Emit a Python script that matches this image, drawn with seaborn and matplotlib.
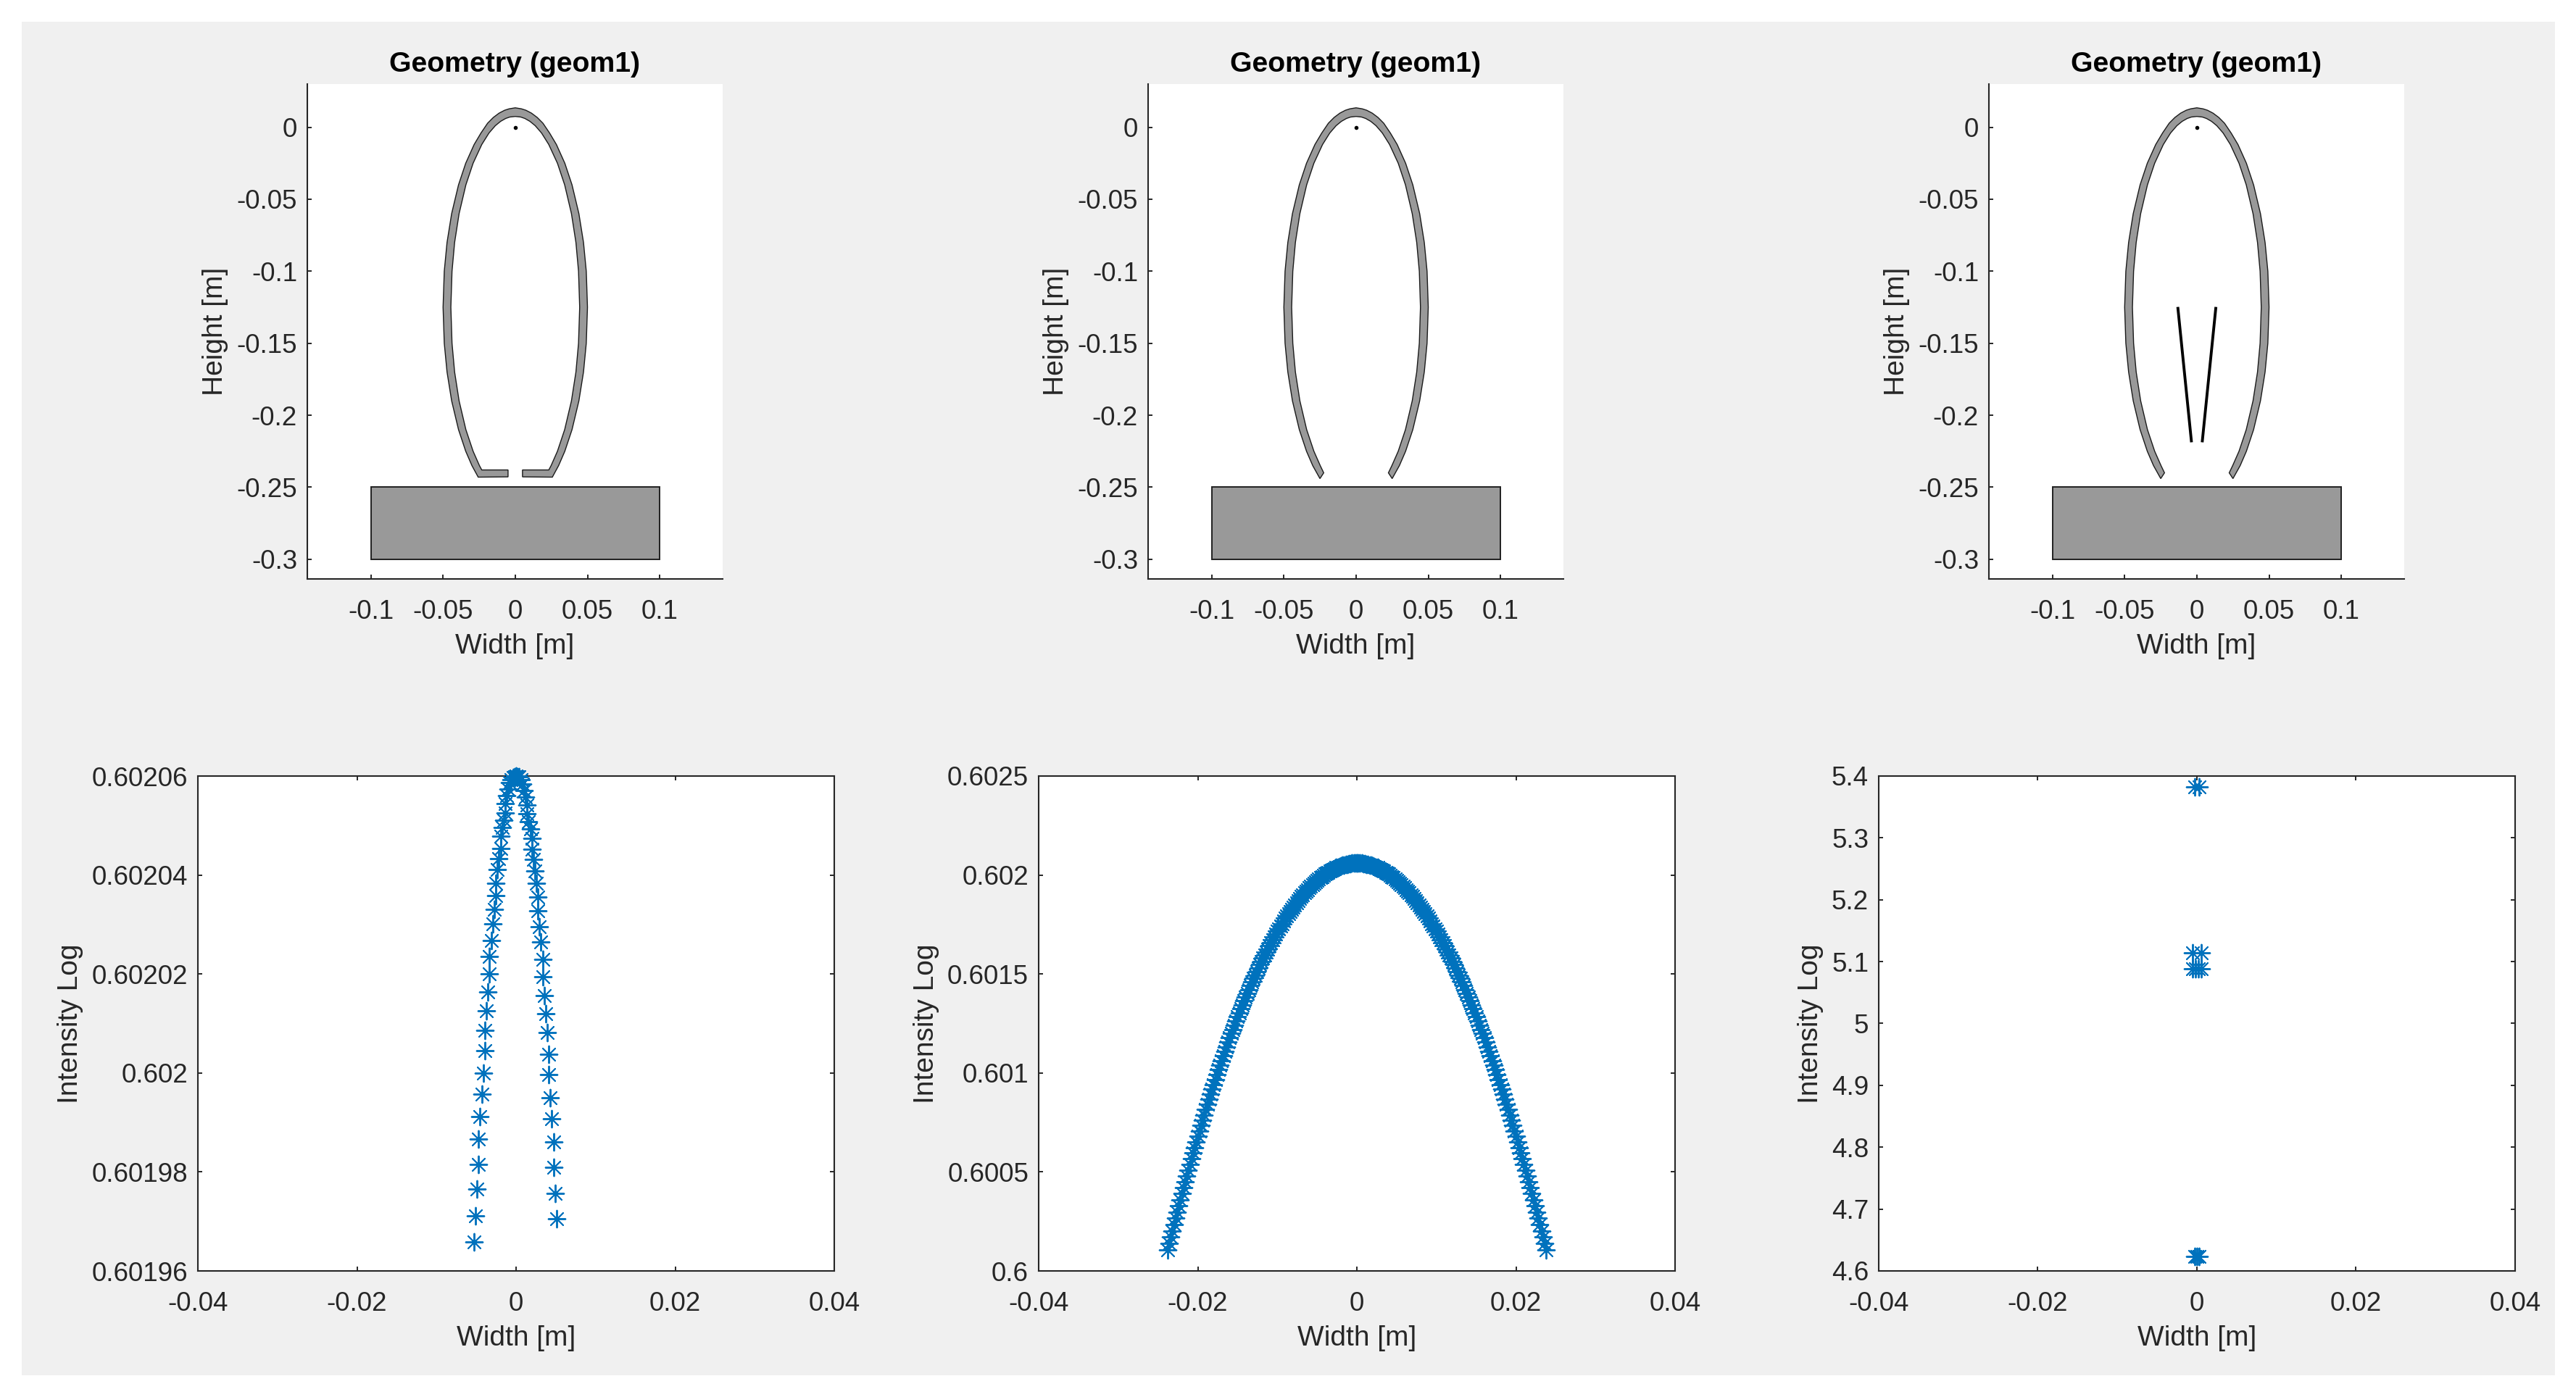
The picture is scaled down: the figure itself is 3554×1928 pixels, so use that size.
import numpy as np
import matplotlib
matplotlib.use("Agg")
import matplotlib.pyplot as plt
from matplotlib.patches import Rectangle
import seaborn as sns

sns.set_theme(style="white")
plt.rcParams['font.family'] = ['Liberation Sans', 'DejaVu Sans']

W, H = 3555, 1928
BG = "#F0F0F0"; INK = "#262626"; BLUE = "#0072BD"; SHELL = "#999999"

# ---------- data ----------
title = "Geometry (geom1)"
x_label = "Width [m]"
h_label = "Height [m]"
i_label = "Intensity Log"

geom_xticks = [-0.1, -0.05, 0, 0.05, 0.1]
geom_xticklabels = ["-0.1", "-0.05", "0", "0.05", "0.1"]
geom_yticks = [0, -0.05, -0.1, -0.15, -0.2, -0.25, -0.3]
geom_yticklabels = ["0", "-0.05", "-0.1", "-0.15", "-0.2", "-0.25", "-0.3"]
intensity_xticks = [-0.04, -0.02, 0, 0.02, 0.04]
intensity_xticklabels = ["-0.04", "-0.02", "0", "0.02", "0.04"]

# shell, right half: height / half-width of outer and inner edge
outer_apex = .0135
inner_apex = .0075
outer_y = [.0128, .0118, .0098, .0068, .0028, -.004, -.012, -.025, -.04, -.06, -.08, -.10, -.125,
           -.15, -.17, -.19, -.21, -.225, -.235, -.243]
outer_w = [.00426, .00737, .01121, .01519, .01916, .02375, .02849, .03432, .0393, .04406, .04725, .04917, .05,
           .04917, .04725, .04406, .0393, .03432, .03, .02567]
inner_y = [.0071, .0061, .0041, .0011, -.004, -.012, -.025, -.04, -.06, -.08, -.10, -.125,
           -.15, -.17, -.19, -.21, -.225, -.235, -.238]
inner_w = [.0038, .00665, .01015, .0138, .0182, .0232, .0292, .0342, .0389, .042, .0438, .0446,
           .0438, .042, .0389, .0342, .0292, .0248, .0232]
foot_x = [.005, .005]           # inner end of the foot (panel 1)
foot_y = [-.2428, -.238]
open_end_outer = (.025, -.244)  # open end (panels 2, 3)
open_end_inner = (.0224, -.240)
base_x = [-.1, .1]
base_y = [-.3, -.25]
vane_top = (.0132, -.1248)
vane_bottom = (.0037, -.2188)

# panel 1 intensity
x1_left = [-5.32, -5.10, -4.92, -4.71, -4.71, -4.53, -4.31, -4.13, -3.92, -3.92, -3.74, -3.52, -3.34, -3.34, -3.13,
           -2.95, -2.73, -2.55, -2.55, -2.34, -2.16, -1.94, -1.94, -1.76, -1.55, -1.37, -1.37, -1.18, -0.97, -0.79,
           -0.61, -0.39, -0.21, 0]
y1_left = [.6019659, .6019712, .6019765, .6019815, .6019866, .6019912, .6019957, .6020000, .6020045, .6020086,
           .6020126, .6020163, .6020200, .6020235, .6020268, .6020301, .6020330, .6020358, .6020384, .6020411,
           .6020433, .6020454, .6020478, .6020496, .6020510, .6020526, .6020545, .6020561, .6020574, .6020587,
           .6020593, .6020597, .6020599, .6020600]
x1_right = [5.07, 4.89, 4.71, 4.71, 4.50, 4.31, 4.10, 4.10, 3.92, 3.71, 3.52, 3.34, 3.34, 3.13, 2.95, 2.73, 2.73,
            2.55, 2.37, 2.16, 1.97, 1.97, 1.79, 1.58, 1.40, 1.40, 1.18, 1.00, .82, .61, .39, .21]
y1_right = [.6019706, .6019756, .6019810, .6019860, .6019907, .6019950, .6019997, .6020038, .6020082, .6020120,
            .6020157, .6020195, .6020230, .6020264, .6020295, .6020327, .6020356, .6020383, .6020408, .6020431,
            .6020452, .6020474, .6020493, .6020508, .6020524, .6020541, .6020558, .6020571, .6020584, .6020593,
            .6020598, .6020599]
y1_ticks = [0.60196, 0.60198, 0.602, 0.60202, 0.60204, 0.60206]
y1_ticklabels = ["0.60196", "0.60198", "0.602", "0.60202", "0.60204", "0.60206"]

# panel 2 intensity (mm, one half of a symmetric arch)
x2_half = [0, .2, .4, .6, .8, 1, 1.2, 1.4, 1.6, 1.8, 2, 2.2, 2.4, 2.6, 2.8, 3, 3.2, 3.4, 3.6, 3.8,
           4, 4.2, 4.4, 4.6, 4.8, 5, 5.2, 5.4, 5.6, 5.8, 6, 6.2, 6.4, 6.6, 6.8, 7, 7.2, 7.4, 7.6, 7.8,
           8, 8.2, 8.4, 8.6, 8.8, 9, 9.2, 9.4, 9.6, 9.8, 10, 10.2, 10.4, 10.6, 10.8, 11, 11.2, 11.4, 11.6, 11.8,
           12, 12.2, 12.4, 12.6, 12.8, 13, 13.2, 13.4, 13.6, 13.8, 14, 14.2, 14.4, 14.6, 14.8, 15, 15.2, 15.4, 15.6, 15.8,
           16, 16.2, 16.4, 16.6, 16.8, 17, 17.2, 17.4, 17.6, 17.8, 18, 18.2, 18.4, 18.6, 18.8, 19, 19.2, 19.4, 19.6, 19.8,
           20, 20.2, 20.4, 20.6, 20.8, 21, 21.2, 21.4, 21.6, 21.8, 22, 22.2, 22.4, 22.6, 22.8, 23, 23.2, 23.4, 23.6, 23.8]
y2_half = [.602060, .602060, .602059, .602059, .602058, .602057, .602055, .602053, .602051, .602049,
           .602046, .602043, .602040, .602037, .602033, .602029, .602025, .602020, .602015, .602010,
           .602005, .601999, .601993, .601987, .601981, .601974, .601967, .601959, .601952, .601944,
           .601936, .601927, .601919, .601910, .601901, .601891, .601881, .601871, .601861, .601850,
           .601839, .601828, .601817, .601805, .601793, .601781, .601768, .601755, .601742, .601729,
           .601715, .601701, .601687, .601672, .601658, .601643, .601627, .601612, .601596, .601580,
           .601563, .601547, .601530, .601512, .601495, .601477, .601459, .601441, .601422, .601403,
           .601384, .601364, .601345, .601325, .601304, .601284, .601263, .601242, .601220, .601199,
           .601177, .601155, .601132, .601109, .601086, .601063, .601039, .601016, .600991, .600967,
           .600942, .600917, .600892, .600866, .600841, .600815, .600788, .600762, .600735, .600708,
           .600680, .600652, .600624, .600596, .600567, .600539, .600509, .600480, .600450, .600420,
           .600390, .600360, .600329, .600298, .600267, .600235, .600203, .600171, .600139, .600106]
y2_ticks = [0.6, 0.6005, 0.601, 0.6015, 0.602, 0.6025]
y2_ticklabels = ["0.6", "0.6005", "0.601", "0.6015", "0.602", "0.6025"]

# panel 3 intensity
x3 = [-.3, .3, -.55, .55, -.55, .55, -.2, .2, -.3, .3, 0]
y3 = [5.383, 5.383, 5.114, 5.114, 5.089, 5.089, 5.089, 5.089, 4.623, 4.623, 4.623]
y3_ticks = [4.6, 4.7, 4.8, 4.9, 5, 5.1, 5.2, 5.3, 5.4]
y3_ticklabels = ["4.6", "4.7", "4.8", "4.9", "5", "5.1", "5.2", "5.3", "5.4"]

# ---------- figure ----------
fig = plt.figure(figsize=(W / 100, H / 100), dpi=100, facecolor="white")
fig.patches.append(Rectangle((30 / W, 1 - 1898 / H), 3495 / W, 1868 / H, transform=fig.transFigure,
                             facecolor=BG, edgecolor="none", zorder=-10))


def axes_px(x0, y0, x1, y1):
    return fig.add_axes([x0 / W, 1 - y1 / H, (x1 - x0) / W, (y1 - y0) / H], facecolor="white")


def style(ax, box):
    for s in ax.spines.values():
        s.set_color(INK)
        s.set_linewidth(1.5)
    ax.spines["top"].set_visible(box)
    ax.spines["right"].set_visible(box)
    ax.tick_params(direction="in", length=4.5, width=1.4, color=INK, labelcolor=INK, labelsize=26.5,
                   top=box, right=box, bottom=True, left=True, pad=10)
    ax.tick_params(axis="x", pad=20)


def draw_geometry(ax, kind):
    ox, oy = np.array(outer_w), np.array(outer_y)
    ix, iy = np.array(inner_w), np.array(inner_y)
    if kind == 0:
        rx = np.r_[ox, foot_x, ix[::-1]]
        ry = np.r_[oy, foot_y, iy[::-1]]
    else:
        rx = np.r_[ox[:-1], open_end_outer[0], open_end_inner[0], ix[:-1][::-1]]
        ry = np.r_[oy[:-1], open_end_outer[1], open_end_inner[1], iy[:-1][::-1]]
    # closed outline: outer apex, right wall, inner apex, left wall
    px = np.r_[0, rx, 0, -rx[::-1]]
    py = np.r_[outer_apex, ry, inner_apex, ry[::-1]]
    ax.fill(px, py, facecolor=SHELL, edgecolor="#1a1a1a", linewidth=1.0, zorder=2)
    ax.fill([base_x[0], base_x[1], base_x[1], base_x[0]], [base_y[0], base_y[0], base_y[1], base_y[1]],
            facecolor=SHELL, edgecolor="#202020", linewidth=1.4, zorder=2)
    sns.scatterplot(x=[0], y=[0], color="black", s=16, linewidth=0, ax=ax, zorder=3)
    if kind == 2:
        for sgn in (1, -1):
            ax.plot([sgn * vane_top[0], sgn * vane_bottom[0]], [vane_top[1], vane_bottom[1]],
                    color="black", lw=2.8, solid_capstyle="butt", zorder=3)
    ax.set_xlim(-0.144, 0.1436)
    ax.set_ylim(-0.3137, 0.03)
    ax.set_xticks(geom_xticks, geom_xticklabels)
    ax.set_yticks(geom_yticks, geom_yticklabels)
    style(ax, False)
    ax.set_title(title, fontsize=28.3, fontweight="bold", color="black", pad=12)
    ax.set_xlabel(x_label, fontsize=28, color=INK, labelpad=9)
    ax.set_ylabel(h_label, fontsize=28, color=INK, labelpad=8)


def draw_intensity(ax, x, y, yticks, ylabels, ylim):
    sns.scatterplot(x=np.asarray(x), y=np.asarray(y), marker=(8, 2, 0), s=290, color=BLUE, linewidth=1.4,
                    clip_on=False, ax=ax, zorder=3)
    ax.set_xlim(-0.04, 0.04)
    ax.set_ylim(*ylim)
    ax.set_xticks(intensity_xticks, intensity_xticklabels)
    ax.set_yticks(yticks, ylabels)
    style(ax, True)
    ax.set_xlabel(x_label, fontsize=28, color=INK, labelpad=9)
    ax.set_ylabel(i_label, fontsize=28, color=INK, labelpad=8)


top_lefts = [424, 1584, 2744]
for k, x0 in enumerate(top_lefts):
    draw_geometry(axes_px(x0, 116, x0 + 573, 799), k)

ax4 = axes_px(273, 1071, 1151, 1754)
x1 = np.r_[x1_left, x1_right] / 1000
y1 = np.r_[y1_left, y1_right]
draw_intensity(ax4, x1, y1, y1_ticks, y1_ticklabels, (0.60196, 0.60206))

ax5 = axes_px(1433, 1071, 2311, 1754)
x2 = np.r_[-np.array(x2_half)[::-1], x2_half] / 1000
y2 = np.r_[y2_half[::-1], y2_half]
draw_intensity(ax5, x2, y2, y2_ticks, y2_ticklabels, (0.6, 0.6025))

ax6 = axes_px(2592, 1071, 3470, 1754)
draw_intensity(ax6, np.array(x3) / 1000, y3, y3_ticks, y3_ticklabels, (4.6, 5.4))

fig.savefig("out.png", dpi=100, facecolor="white")
